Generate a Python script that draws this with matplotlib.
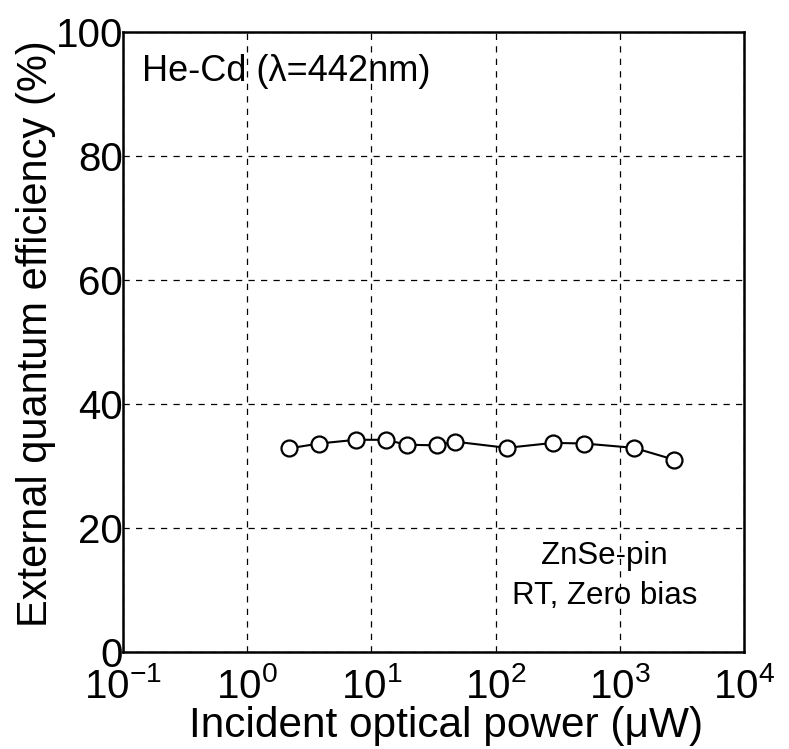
import matplotlib
matplotlib.use("Agg")
import matplotlib.pyplot as plt
from matplotlib.ticker import FixedLocator, NullLocator

plt.rcParams['font.family'] = ['Liberation Sans', 'DejaVu Sans']
plt.rcParams['mathtext.fontset'] = 'custom'
plt.rcParams['mathtext.rm'] = 'Liberation Sans'

# Measured external quantum efficiency vs incident optical power
power_uW = [2.15, 3.8, 7.5, 13, 19.3, 33.6, 47, 123, 291, 514, 1298, 2724]
eqe_pct = [32.8, 33.6, 34.2, 34.2, 33.4, 33.3, 33.9, 32.9, 33.7, 33.6, 32.9, 31.0]

x_decades = [-1, 0, 1, 2, 3, 4]
y_ticks = [0, 20, 40, 60, 80, 100]

fig = plt.figure(figsize=(7.89, 7.49), dpi=100)
ax = fig.add_axes([0.156, 0.130, 0.787, 0.827])

ax.plot(power_uW, eqe_pct, color='black', lw=1.5, marker='o', ms=11.5,
        mfc='white', mec='black', mew=1.6, zorder=3)

ax.set_xscale('log')
ax.set_xlim(10.0 ** x_decades[0], 10.0 ** x_decades[-1])
ax.set_ylim(y_ticks[0], y_ticks[-1])
ax.xaxis.set_major_locator(FixedLocator([10.0 ** d for d in x_decades]))
ax.xaxis.set_minor_locator(NullLocator())
ax.set_xticklabels([r'$\mathregular{10^{%d}}$' % d for d in x_decades])
ax.set_yticks(y_ticks)

ax.grid(True, which='major', linestyle=(0, (5, 5)), color='black', lw=0.9)
ax.tick_params(length=0, labelsize=29)
ax.tick_params(axis='x', pad=11)
ax.tick_params(axis='y', pad=0)
for s in ax.spines.values():
    s.set_linewidth(1.8)

ax.set_xlabel('Incident optical power (μW)', fontsize=30.5)
ax.xaxis.set_label_coords(0.52, -0.087, transform=ax.transAxes)
ax.xaxis.label.set_va('top')
ax.set_ylabel('External quantum efficiency (%)', fontsize=30)
ax.yaxis.set_label_coords(-0.108, 0.513, transform=ax.transAxes)

ax.text(0.03, 0.965, 'He-Cd (λ=442nm)', transform=ax.transAxes,
        fontsize=26, ha='left', va='top')
ax.text(0.775, 0.122, 'ZnSe-pin\nRT, Zero bias', transform=ax.transAxes,
        fontsize=22.5, ha='center', va='center', linespacing=1.4)

fig.savefig('out.png', dpi=100)
